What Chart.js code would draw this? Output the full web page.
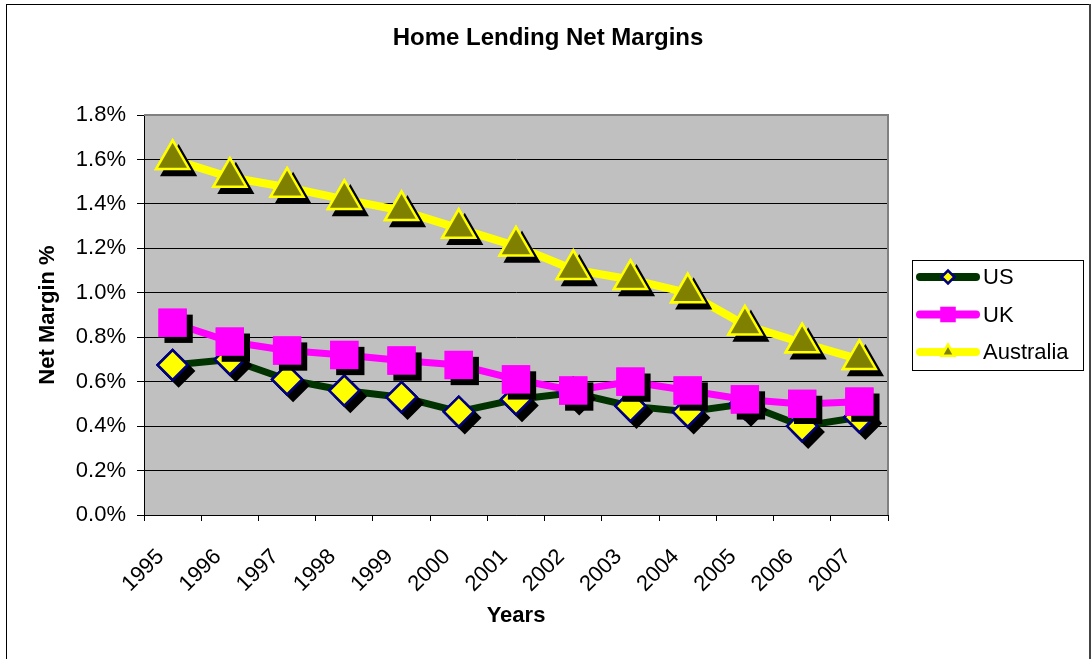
<!DOCTYPE html>
<html>
<head>
<meta charset="utf-8">
<script src="https://cdn.jsdelivr.net/npm/chart.js@4.4.1/dist/chart.umd.min.js"></script>
<style>
  html, body { margin: 0; padding: 0; background: #fff; }
  #wrap { width: 1091px; height: 659px; }
</style>
</head>
<body>
<div id="wrap"><canvas id="chart" width="1091" height="659"></canvas></div>
<script>
// data (net margin, in %)
const years = ["1995","1996","1997","1998","1999","2000","2001","2002","2003","2004","2005","2006","2007"];
const usMargin = [0.675, 0.70, 0.61, 0.56, 0.53, 0.465, 0.52, 0.55, 0.49, 0.465, 0.50, 0.40, 0.44];
const ukMargin = [0.865, 0.78, 0.74, 0.72, 0.695, 0.675, 0.61, 0.56, 0.60, 0.56, 0.52, 0.50, 0.51];
const auMargin = [1.60, 1.52, 1.475, 1.42, 1.37, 1.29, 1.21, 1.105, 1.06, 1.00, 0.855, 0.775, 0.70];
const seriesNames = ["US", "UK", "Australia"];
const chartTitle = "Home Lending Net Margins";

const FONT = "'Liberation Sans', Arial, Helvetica, sans-serif";
Chart.defaults.font.family = FONT;
Chart.defaults.color = "#000";

const H = Chart.helpers || {};

function marker(ctx, opts, x, y){
  if (H.drawPoint) H.drawPoint(ctx, opts, x, y);
}

// white page + outer frame + grey plot area + title
const backdrop = {
  id: "backdrop",
  beforeDraw(chart){
    const c = chart.ctx, a = chart.chartArea;
    c.save();
    c.fillStyle = "#fff";
    c.fillRect(0, 0, chart.width, chart.height);
    c.strokeStyle = "#000";
    c.lineWidth = 1;
    c.strokeRect(6.5, 4.5, 1083, 700);
    c.strokeStyle = "#444";
    c.lineWidth = 2;
    c.beginPath(); c.moveTo(1090, 4); c.lineTo(1090, 659); c.stroke();
    c.fillStyle = "#C0C0C0";
    c.fillRect(a.left, a.top, a.right - a.left, a.bottom - a.top);

    c.fillStyle = "#000";
    c.font = "bold 24px " + FONT;
    c.textAlign = "center";
    c.textBaseline = "middle";
    c.fillText(chartTitle, 548, 38);
    c.restore();
  },
  beforeDatasetsDraw(chart){
    const c = chart.ctx, a = chart.chartArea;
    c.save();
    c.strokeStyle = "#808080";
    c.lineWidth = 2;
    c.beginPath();
    c.moveTo(a.left, a.top);
    c.lineTo(a.right, a.top);
    c.lineTo(a.right, a.bottom);
    c.stroke();
    c.restore();
  }
};

// black drop shadow under each marker (over the line, under the marker)
const markerShadow = {
  id: "markerShadow",
  afterDatasetDraw(chart, args){
    const c = chart.ctx;
    const meta = args.meta;
    c.save();
    meta.data.forEach(el => {
      const o = el.options;
      c.fillStyle = "#000";
      c.strokeStyle = "#000";
      c.lineWidth = o.borderWidth;
      marker(c, { pointStyle: o.pointStyle, rotation: 0, radius: o.radius, borderWidth: o.borderWidth }, el.x + 6, el.y + 6);
    });
    meta.data.forEach(el => el.draw(c, chart.chartArea));
    c.restore();
  }
};

// Excel-style legend: line with marker, boxed, right of the plot
const sideLegend = {
  id: "sideLegend",
  afterDraw(chart){
    const c = chart.ctx;
    const sizes = [6.5, 11, 7.5];
    c.save();
    c.fillStyle = "#fff";
    c.fillRect(912, 260, 171, 110);
    c.strokeStyle = "#000";
    c.lineWidth = 1;
    c.strokeRect(912.5, 260.5, 171, 110);
    seriesNames.forEach((name, i) => {
      const ds = chart.data.datasets.find(d => d.label === name);
      const y = 277 + i * 37.5;
      c.strokeStyle = ds.borderColor;
      c.lineWidth = 8;
      c.lineCap = "round";
      c.beginPath(); c.moveTo(920, y); c.lineTo(976, y); c.stroke();
      c.fillStyle = ds.pointBackgroundColor;
      c.strokeStyle = ds.pointBorderColor;
      c.lineWidth = ds.pointBorderWidth;
      marker(c, { pointStyle: ds.pointStyle, rotation: 0, radius: sizes[i], borderWidth: ds.pointBorderWidth }, 948, y);
      c.fillStyle = "#000";
      c.font = "22px " + FONT;
      c.textAlign = "left";
      c.textBaseline = "middle";
      c.fillText(name, 983, y + 1);
    });
    c.restore();
  }
};

new Chart(document.getElementById("chart"), {
  type: "line",
  data: {
    labels: years,
    datasets: [
      {
        label: "US", data: usMargin, order: 3,
        borderColor: "#003300", borderWidth: 7, tension: 0,
        borderJoinStyle: "round", borderCapStyle: "round",
        pointStyle: "rectRot", pointRadius: 15,
        pointBackgroundColor: "#FFFF00", pointBorderColor: "#000080", pointBorderWidth: 2.5
      },
      {
        label: "UK", data: ukMargin, order: 2,
        borderColor: "#FF00FF", borderWidth: 7, tension: 0,
        borderJoinStyle: "round", borderCapStyle: "round",
        pointStyle: "rect", pointRadius: 20,
        pointBackgroundColor: "#FF00FF", pointBorderColor: "#FF00FF", pointBorderWidth: 0
      },
      {
        label: "Australia", data: auMargin, order: 1,
        borderColor: "#FFFF00", borderWidth: 8, tension: 0,
        borderJoinStyle: "round", borderCapStyle: "round",
        pointStyle: "triangle", pointRadius: 19,
        pointBackgroundColor: "#808000", pointBorderColor: "#FFFF00", pointBorderWidth: 2.5
      }
    ]
  },
  options: {
    responsive: false,
    animation: false,
    devicePixelRatio: 1,
    layout: { padding: { left: 0, right: 203, top: 115, bottom: 0 } },
    plugins: {
      legend: { display: false },
      tooltip: { enabled: false },
      title: { display: false }
    },
    scales: {
      x: {
        offset: true,
        grid: { offset: true, drawOnChartArea: false, color: "#000", tickLength: 6 },
        border: { color: "#000", width: 1 },
        ticks: { minRotation: 45, maxRotation: 45, autoSkip: false, color: "#000", font: { size: 22 }, padding: 23, labelOffset: -12 },
        title: { display: true, text: "Years", color: "#000", font: { size: 22, weight: "bold" }, padding: { top: 0, bottom: 29.8 } },
        afterFit(s){ s.height = 144; }
      },
      y: {
        min: 0, max: 1.8,
        grid: { color: "#000", tickLength: 7 },
        border: { color: "#000", width: 1 },
        ticks: { stepSize: 0.2, color: "#000", font: { size: 22 }, padding: 11, callback: v => v.toFixed(1) + "%" },
        title: { display: true, text: "Net Margin %", color: "#000", font: { size: 22, weight: "bold" }, padding: { top: 34.8, bottom: 0 } },
        afterFit(s){ s.width = 144; }
      }
    }
  },
  plugins: [backdrop, markerShadow, sideLegend]
});
</script>
</body>
</html>
